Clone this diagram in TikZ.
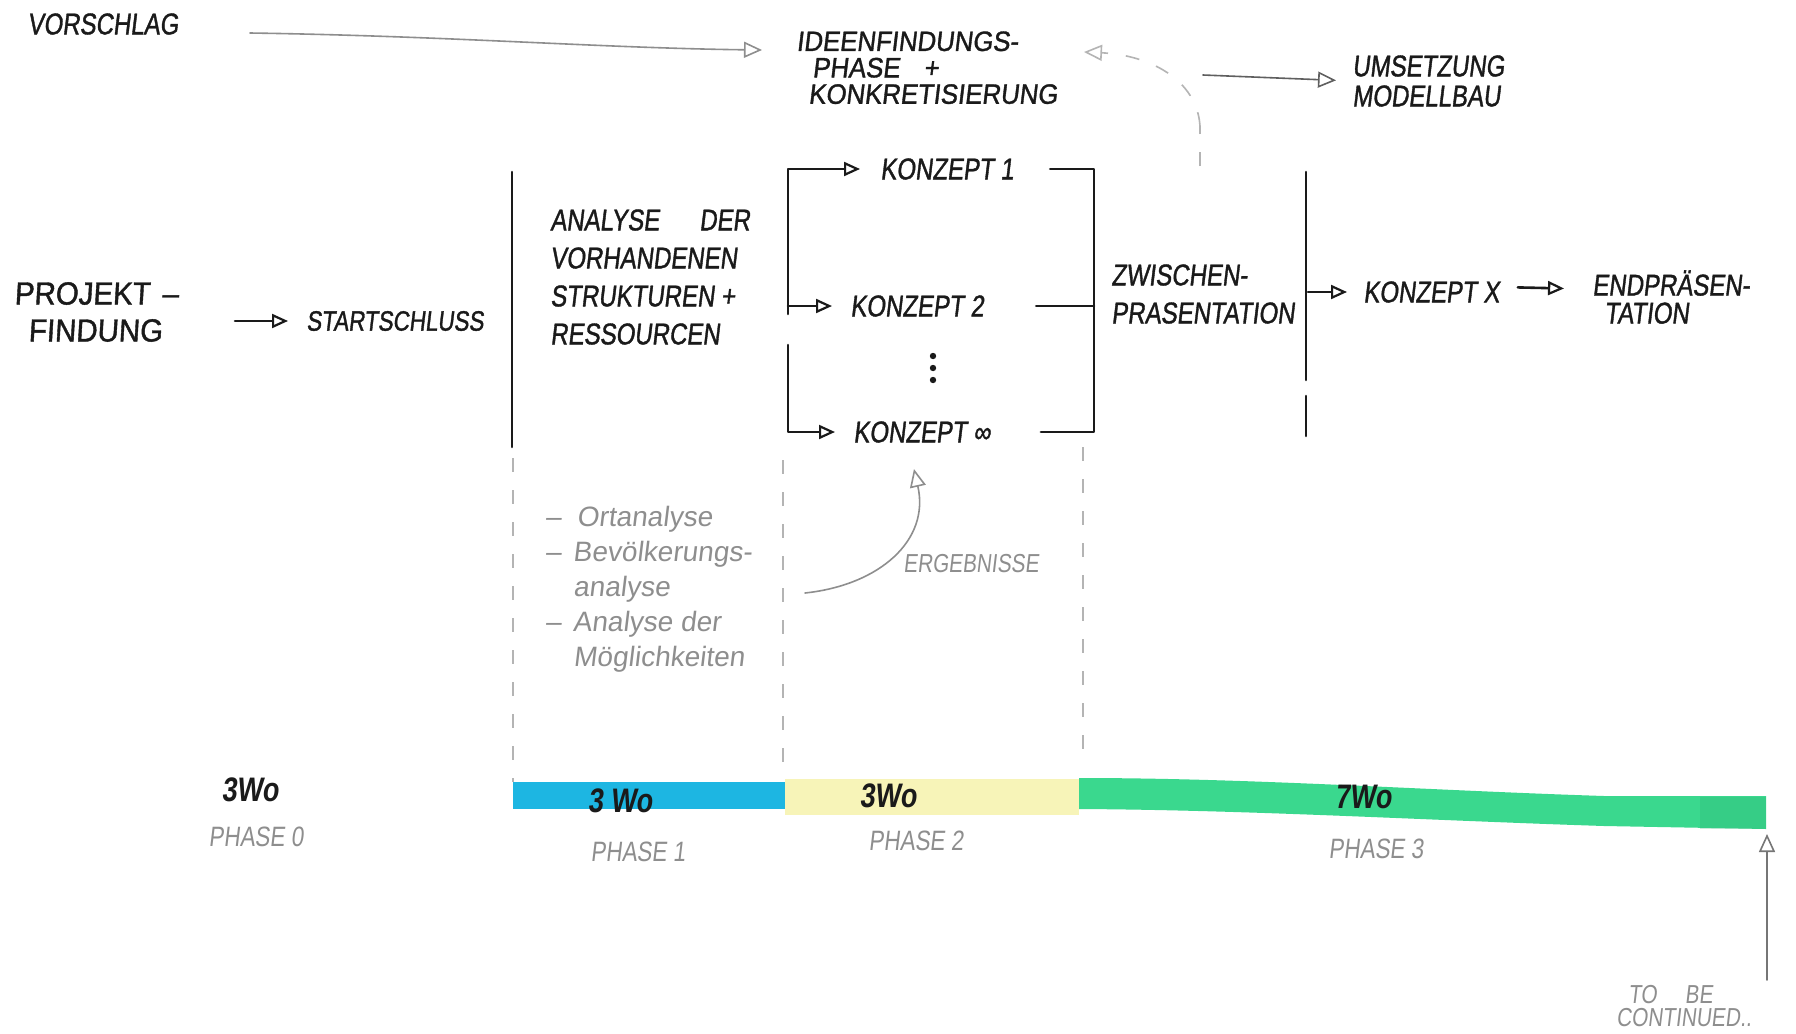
\documentclass[tikz,border=0pt]{standalone}
\usepackage{fontspec}
\setmainfont{Liberation Sans}
\newfontfamily\hand[FakeStretch=0.8,FakeSlant=0.12]{Liberation Sans}
\newfontfamily\handb[FakeStretch=0.8,FakeSlant=0.12,FakeBold=1.2]{Liberation Sans}
\newfontfamily\handbi[FakeStretch=0.92,FakeSlant=0.12,FakeBold=1.2]{Liberation Sans}
\newfontfamily\handw[FakeSlant=0.12]{Liberation Sans}
\newfontfamily\handwb[FakeStretch=0.92,FakeSlant=0.06,FakeBold=1.2]{Liberation Sans}
\usetikzlibrary{arrows.meta,calc}
\definecolor{ink}{HTML}{1A1A1A}
\definecolor{pencil}{HTML}{8E8E8E}
\definecolor{lightpencil}{HTML}{B4B4B4}
\definecolor{barblue}{HTML}{1DB6E2}
\definecolor{baryellow}{HTML}{F7F4B8}
\definecolor{bargreen}{HTML}{3AD88E}
\begin{document}
\begin{tikzpicture}[x=0.5pt,y=-0.5pt,
  txt/.style={inner sep=0pt, text=ink, font=\handb\fontsize{15}{19}\selectfont},
  wtxt/.style={inner sep=0pt, text=ink, font=\handwb\fontsize{16}{18.5}\selectfont},
  ptxt/.style={inner sep=0pt, text=pencil, font=\hand\fontsize{14}{16}\selectfont},
  listtxt/.style={inner sep=0pt, text=pencil, font=\handw\fontsize{14}{17.5}\selectfont},
  barlbl/.style={inner sep=0pt, text=ink, font=\hand\bfseries\fontsize{17}{17}\selectfont},
  inkline/.style={draw=ink, line width=1.3pt, line cap=round, line join=round},
  inkarrow/.style={inkline, -{Triangle[open,length=8pt,width=7pt,line width=1.1pt]}},
  parrow/.style={draw=pencil, line width=0.8pt, line cap=round, -{Triangle[open,length=9pt,width=8pt,line width=0.8pt]}},
  pdash/.style={draw=lightpencil, line width=0.8pt, dash pattern=on 7pt off 9pt},
]
\useasboundingbox[fill=white] (0,0) rectangle (1796,1034);

% ---------- top row ----------
\node[txt] (vorschlag) at (103,24) {VORSCHLAG};
\node[txt, anchor=north west, align=left, font=\handbi\fontsize{14}{13.2}\selectfont] (ideen) at (796,31)
  {IDEENFINDUNGS-\\\hspace*{8pt}PHASE\hspace{12pt}+\\\hspace*{6pt}KONKRETISIERUNG};
\node[txt, anchor=west, align=left, font=\handb\fontsize{15}{15}\selectfont] (umsetzung) at (1352,81)
  {UMSETZUNG\\MODELLBAU};

\coordinate (vsA) at (250,33);
\coordinate (vsB) at (762,50);
\draw[parrow] (vsA) .. controls (450,36) and (600,48) .. (vsB);

\coordinate (zpUp) at (1200,166);
\draw[pdash] (zpUp) -- (1200,126);
\draw[pdash, -{Triangle[open,length=9pt,width=8pt,line width=0.8pt,sep=0pt]}] (1200,126) .. controls (1197,80) and (1150,55) .. (1084,52);

\coordinate (umA) at (1203,75);
\draw[parrow, draw=ink!70, shorten >=8pt] (umA) -- (umsetzung.west);

% ---------- main row ----------
\node[wtxt, anchor=west, align=left] (projekt) at (14,312) {PROJEKT\hspace{6pt}–\\\hspace*{7pt}FINDUNG};
\node[txt, font=\handb\fontsize{14}{16}\selectfont] (start) at (395,321) {STARTSCHLUSS};
\coordinate (pfA) at (235,321);
\draw[inkarrow, shorten >=9pt] (pfA) -- (start.west);

\draw[inkline] (512,172) -- (512,447);

\node[txt, anchor=north west, align=left] (analyse) at (550,209)
  {ANALYSE\hspace{20pt}DER\\VORHANDENEN\\STRUKTUREN +\\RESSOURCEN};

\node[txt, anchor=west] (k1) at (880,169) {KONZEPT 1};
\node[txt, anchor=west] (k2) at (850,306) {KONZEPT 2};
\node[txt, anchor=west] (kinf) at (853,432) {KONZEPT ∞};
\foreach \yy in {356,368,380} \fill[ink] (933,\yy) circle (1.6pt);

% left bracket with arrows
\draw[inkarrow, shorten >=10pt] (788,314) -- (788,169) -- (k1.west);
\draw[inkarrow, shorten >=9pt] (788,306) -- (k2.west);
\draw[inkarrow, shorten >=9pt] (788,345) |- (kinf.west);
% right bracket
\draw[inkline] ($(k1.east)+(36,0)$) -- (1094,169) -- (1094,432) -- ($(kinf.east)+(50,0)$);
\draw[inkline] ($(k2.east)+(52,0)$) -- (1094,306);

\node[txt, anchor=north west, align=left] (zwischen) at (1111,264) {ZWISCHEN-\\PRASENTATION};

\draw[inkline] (1306,172) -- (1306,380);
\draw[inkline] (1306,396) -- (1306,436);

\node[txt, anchor=west] (kx) at (1363,292) {KONZEPT X};
\coordinate (kxA) at (1308,292);
\draw[inkarrow, shorten >=8pt] (kxA) -- (kx.west);

\node[txt, anchor=north west, align=left, font=\handb\fontsize{15}{14}\selectfont] (endp) at (1592,270)
  {ENDPRÄSEN-\\\hspace*{6pt}TATION};
\draw[inkarrow, shorten <=9pt, shorten >=14pt] ($(kx.east)+(0,-5)$) -- ($(endp.west)+(0,-8)$);

% ---------- pencil notes ----------
\draw[pdash] (513,458) -- (513,782);
\draw[pdash] (783,460) -- (783,779);
\draw[pdash] (1083,447) -- (1083,757);

\node[listtxt, anchor=north west, align=left] (list) at (545,506)
  {–\hspace{8pt}Ortanalyse\\–\hspace{6pt}Bevölkerungs-\\\hspace*{14pt}analyse\\–\hspace{6pt}Analyse der\\\hspace*{14pt}Möglichkeiten};

\node[ptxt, font=\hand\fontsize{13}{13}\selectfont] (erg) at (971,564) {ERGEBNISSE};
\coordinate (ergA) at (805,593);
\draw[parrow] (ergA) .. controls (880,585) and (930,540) .. ($(kinf.south)+(-8,26)$);

% ---------- timeline ----------
\fill[barblue] (513,782) rectangle (785,809);
\fill[baryellow] (785,779) rectangle (1079,815);
\fill[bargreen] (1079,778) .. controls (1250,778) and (1420,790) .. (1604,796)
  -- (1766,796) -- (1766,829) -- (1604,826) .. controls (1420,820) and (1250,810) .. (1079,809) -- cycle;
\fill[bargreen!80!black, opacity=0.25] (1700,797) rectangle (1766,829);

\node[barlbl] (w0) at (250,790) {3Wo};
\node[barlbl] (w1) at (620,801) {3 Wo};
\node[barlbl] (w2) at (888,796) {3Wo};
\node[barlbl] (w3) at (1363,797) {7Wo};

\node[ptxt] (p0) at (256,837) {PHASE 0};
\node[ptxt] (p1) at (638,852) {PHASE 1};
\node[ptxt] (p2) at (916,841) {PHASE 2};
\node[ptxt] (p3) at (1376,849) {PHASE 3};

\node[ptxt, anchor=west, align=left, font=\hand\fontsize{13}{11.5}\selectfont] (tbc) at (1616,1006)
  {\hspace*{6pt}TO\hspace{14pt}BE\\CONTINUED..};
\coordinate (tbcA) at (1767,980);
\draw[parrow, draw=ink!60] (tbcA) -- (1767,834);

\end{tikzpicture}
\end{document}
